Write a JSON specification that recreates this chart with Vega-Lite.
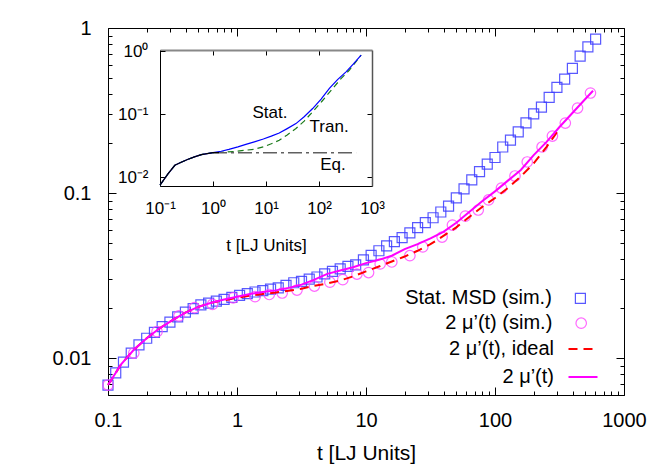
{
  "$schema": "https://vega.github.io/schema/vega-lite/v6.json",
  "width": 516,
  "height": 367,
  "autosize": {"type": "none"},
  "padding": {"left": 108, "top": 28, "right": 40, "bottom": 70},
  "background": "white",
  "config": {
    "font": "Liberation Sans",
    "view": {"stroke": null},
    "axis": {"grid": false, "domainColor": "black", "tickColor": "black", "labelColor": "black", "titleColor": "black", "labelFont": "Liberation Sans", "titleFont": "Liberation Sans", "titleFontWeight": "normal", "labelFlush": false, "labelOverlap": false, "domainWidth": 1, "tickWidth": 1},
    "legend": {"title": null, "orient": "none", "padding": 0, "labelFontSize": 20, "labelFont": "Liberation Sans", "labelColor": "black", "labelAlign": "right", "symbolFillColor": "transparent"}
  },
  "datasets": {
    "squares": [
      {"t": 0.1, "v": 0.00686}, {"t": 0.1148, "v": 0.00813}, {"t": 0.1318, "v": 0.00944}, {"t": 0.1514, "v": 0.01072}, {"t": 0.1738, "v": 0.01202}, {"t": 0.1995, "v": 0.01318}, {"t": 0.2291, "v": 0.01429}, {"t": 0.263, "v": 0.01549}, {"t": 0.302, "v": 0.01652}, {"t": 0.3467, "v": 0.01778}, {"t": 0.3981, "v": 0.01897}, {"t": 0.4571, "v": 0.01995}, {"t": 0.5248, "v": 0.02099}, {"t": 0.6026, "v": 0.02153}, {"t": 0.6918, "v": 0.02213}, {"t": 0.7943, "v": 0.02265}, {"t": 0.912, "v": 0.02333}, {"t": 1.047, "v": 0.02399}, {"t": 1.202, "v": 0.02455}, {"t": 1.38, "v": 0.02512}, {"t": 1.585, "v": 0.02559}, {"t": 1.82, "v": 0.02612}, {"t": 2.089, "v": 0.02661}, {"t": 2.399, "v": 0.02754}, {"t": 2.754, "v": 0.02858}, {"t": 3.162, "v": 0.02917}, {"t": 3.631, "v": 0.03006}, {"t": 4.169, "v": 0.03097}, {"t": 4.786, "v": 0.03236}, {"t": 5.495, "v": 0.0335}, {"t": 6.31, "v": 0.03467}, {"t": 7.244, "v": 0.03589}, {"t": 8.318, "v": 0.03673}, {"t": 9.55, "v": 0.03936}, {"t": 10.96, "v": 0.04188}, {"t": 12.59, "v": 0.04467}, {"t": 14.45, "v": 0.04786}, {"t": 16.6, "v": 0.0507}, {"t": 19.05, "v": 0.0537}, {"t": 21.88, "v": 0.05728}, {"t": 25.12, "v": 0.06166}, {"t": 28.84, "v": 0.06607}, {"t": 33.11, "v": 0.07079}, {"t": 38.02, "v": 0.07674}, {"t": 43.65, "v": 0.08318}, {"t": 50.12, "v": 0.09333}, {"t": 57.54, "v": 0.1059}, {"t": 66.07, "v": 0.1202}, {"t": 75.86, "v": 0.1349}, {"t": 87.1, "v": 0.1496}, {"t": 100, "v": 0.1641}, {"t": 114.8, "v": 0.1901}, {"t": 131.8, "v": 0.2089}, {"t": 151.4, "v": 0.2344}, {"t": 173.8, "v": 0.2661}, {"t": 199.5, "v": 0.302}, {"t": 229.1, "v": 0.3311}, {"t": 263, "v": 0.3802}, {"t": 302, "v": 0.4365}, {"t": 346.7, "v": 0.4898}, {"t": 398.1, "v": 0.5689}, {"t": 457.1, "v": 0.6761}, {"t": 524.8, "v": 0.7674}, {"t": 602.6, "v": 0.8551}
    ],
    "circles": [
      {"t": 0.1, "v": 0.00686}, {"t": 0.1585, "v": 0.01072}, {"t": 0.2399, "v": 0.01445}, {"t": 0.3548, "v": 0.01799}, {"t": 0.4677, "v": 0.02018}, {"t": 0.6457, "v": 0.02113}, {"t": 0.9333, "v": 0.02317}, {"t": 1.38, "v": 0.02355}, {"t": 1.778, "v": 0.02427}, {"t": 2.239, "v": 0.02477}, {"t": 2.917, "v": 0.02582}, {"t": 3.981, "v": 0.02729}, {"t": 5.248, "v": 0.02884}, {"t": 6.607, "v": 0.02985}, {"t": 8.511, "v": 0.03228}, {"t": 10.47, "v": 0.03296}, {"t": 12.88, "v": 0.03715}, {"t": 15.85, "v": 0.0382}, {"t": 21.88, "v": 0.04169}, {"t": 27.54, "v": 0.0471}, {"t": 38.9, "v": 0.05408}, {"t": 46.77, "v": 0.06397}, {"t": 58.88, "v": 0.07244}, {"t": 74.13, "v": 0.07889}, {"t": 89.13, "v": 0.09078}, {"t": 112.2, "v": 0.1072}, {"t": 142.9, "v": 0.1268}, {"t": 177.8, "v": 0.1542}, {"t": 231.7, "v": 0.1901}, {"t": 278.6, "v": 0.2213}, {"t": 350.8, "v": 0.2655}, {"t": 436.5, "v": 0.3273}, {"t": 549.5, "v": 0.4036}
    ],
    "ideal": [
      {"t": 0.1, "v": 0.00686}, {"t": 0.1259, "v": 0.00912}, {"t": 0.1585, "v": 0.01122}, {"t": 0.1995, "v": 0.01318}, {"t": 0.2512, "v": 0.01514}, {"t": 0.3162, "v": 0.01698}, {"t": 0.3981, "v": 0.01884}, {"t": 0.5012, "v": 0.02042}, {"t": 0.631, "v": 0.02163}, {"t": 0.7943, "v": 0.02239}, {"t": 1, "v": 0.02317}, {"t": 1.259, "v": 0.02388}, {"t": 1.585, "v": 0.02443}, {"t": 1.995, "v": 0.02495}, {"t": 2.512, "v": 0.02559}, {"t": 3.162, "v": 0.0263}, {"t": 3.981, "v": 0.02742}, {"t": 5.012, "v": 0.02831}, {"t": 6.31, "v": 0.02951}, {"t": 7.943, "v": 0.03126}, {"t": 10, "v": 0.0335}, {"t": 12.59, "v": 0.03589}, {"t": 15.85, "v": 0.03846}, {"t": 19.95, "v": 0.04121}, {"t": 25.12, "v": 0.04467}, {"t": 31.62, "v": 0.04898}, {"t": 39.81, "v": 0.05495}, {"t": 50.12, "v": 0.06194}, {"t": 63.1, "v": 0.07161}, {"t": 79.43, "v": 0.08222}, {"t": 100, "v": 0.09333}, {"t": 125.9, "v": 0.1072}, {"t": 158.5, "v": 0.1259}, {"t": 199.5, "v": 0.1514}, {"t": 251.2, "v": 0.1905}, {"t": 316.2, "v": 0.2455}
    ],
    "mu": [
      {"t": 0.1, "v": 0.00686}, {"t": 0.1259, "v": 0.00912}, {"t": 0.1585, "v": 0.01122}, {"t": 0.1995, "v": 0.01318}, {"t": 0.2512, "v": 0.01514}, {"t": 0.3162, "v": 0.01698}, {"t": 0.3981, "v": 0.01884}, {"t": 0.5012, "v": 0.02042}, {"t": 0.631, "v": 0.02163}, {"t": 0.7943, "v": 0.02265}, {"t": 1, "v": 0.02355}, {"t": 1.259, "v": 0.02443}, {"t": 1.585, "v": 0.02512}, {"t": 1.995, "v": 0.0257}, {"t": 2.512, "v": 0.02661}, {"t": 3.162, "v": 0.02786}, {"t": 3.981, "v": 0.02985}, {"t": 5.012, "v": 0.03236}, {"t": 6.31, "v": 0.03388}, {"t": 7.943, "v": 0.03548}, {"t": 10, "v": 0.03758}, {"t": 12.59, "v": 0.03936}, {"t": 15.85, "v": 0.04169}, {"t": 19.95, "v": 0.04571}, {"t": 25.12, "v": 0.04898}, {"t": 31.62, "v": 0.05309}, {"t": 39.81, "v": 0.05821}, {"t": 50.12, "v": 0.06607}, {"t": 63.1, "v": 0.07674}, {"t": 79.43, "v": 0.08913}, {"t": 100, "v": 0.1023}, {"t": 125.9, "v": 0.1189}, {"t": 158.5, "v": 0.138}, {"t": 199.5, "v": 0.1698}, {"t": 251.2, "v": 0.2042}, {"t": 316.2, "v": 0.2512}, {"t": 398.1, "v": 0.3055}, {"t": 501.2, "v": 0.3715}, {"t": 575.4, "v": 0.4169}
    ],
    "istat": [
      {"t": 0.1, "v": 0.00741}, {"t": 0.1413, "v": 0.01122}, {"t": 0.1905, "v": 0.01538}, {"t": 0.2512, "v": 0.01718}, {"t": 0.3388, "v": 0.01914}, {"t": 0.4467, "v": 0.02089}, {"t": 0.6026, "v": 0.02275}, {"t": 1, "v": 0.02443}, {"t": 1.429, "v": 0.0257}, {"t": 1.995, "v": 0.02754}, {"t": 2.951, "v": 0.0302}, {"t": 4.169, "v": 0.03311}, {"t": 6.026, "v": 0.03631}, {"t": 8.913, "v": 0.04027}, {"t": 12.59, "v": 0.04467}, {"t": 17.78, "v": 0.05012}, {"t": 25.12, "v": 0.05888}, {"t": 36.73, "v": 0.07079}, {"t": 52.48, "v": 0.0912}, {"t": 75.86, "v": 0.123}, {"t": 109.6, "v": 0.1738}, {"t": 157, "v": 0.257}, {"t": 223.9, "v": 0.3548}, {"t": 323.6, "v": 0.472}, {"t": 446.7, "v": 0.631}, {"t": 623.7, "v": 0.871}
    ],
    "itran": [
      {"t": 0.1, "v": 0.00741}, {"t": 0.1413, "v": 0.01122}, {"t": 0.1905, "v": 0.01538}, {"t": 0.2512, "v": 0.01718}, {"t": 0.3388, "v": 0.01914}, {"t": 0.4467, "v": 0.02089}, {"t": 0.6026, "v": 0.02275}, {"t": 1, "v": 0.02443}, {"t": 1.585, "v": 0.02483}, {"t": 2.512, "v": 0.02541}, {"t": 3.981, "v": 0.02661}, {"t": 6.026, "v": 0.02767}, {"t": 8.913, "v": 0.0302}, {"t": 12.59, "v": 0.03388}, {"t": 17.78, "v": 0.03846}, {"t": 25.12, "v": 0.04677}, {"t": 36.73, "v": 0.05916}, {"t": 52.48, "v": 0.07762}, {"t": 75.86, "v": 0.1089}, {"t": 114.8, "v": 0.1622}, {"t": 182, "v": 0.257}, {"t": 263, "v": 0.3715}, {"t": 375.8, "v": 0.5047}, {"t": 623.7, "v": 0.871}
    ],
    "ieq": [
      {"t": 1, "v": 0.02443}, {"t": 501, "v": 0.02443}
    ],
    "ieq0": [
      {"t": 0.1, "v": 0.00741}, {"t": 0.1413, "v": 0.01122}, {"t": 0.1905, "v": 0.01538}, {"t": 0.2512, "v": 0.01718}, {"t": 0.3388, "v": 0.01914}, {"t": 0.4467, "v": 0.02089}, {"t": 0.6026, "v": 0.02275}, {"t": 1, "v": 0.02443}, {"t": 1.3, "v": 0.02443}
    ],
    "ilabels": [
      {"t": 11.9, "v": 0.1038, "label": "Stat."}, {"t": 155, "v": 0.0621, "label": "Tran."}, {"t": 183.6, "v": 0.0154, "label": "Eq."}
    ]
  },
  "layer": [
    {
      "layer": [
        {
          "data": {"name": "squares"},
          "mark": {"type": "point", "shape": "square", "filled": false, "size": 100, "strokeWidth": 1.2, "opacity": 0.85},
          "encoding": {
            "x": {"field": "t", "type": "quantitative", "scale": {"type": "log", "domain": [0.1, 1000], "nice": false},
              "axis": {"orient": "bottom", "values": [0.1,0.2,0.3,0.4,0.5,0.6,0.7,0.8,0.9,1,2,3,4,5,6,7,8,9,10,20,30,40,50,60,70,80,90,100,200,300,400,500,600,700,800,900,1000],
                "labelExpr": "abs(log(datum.value)/LN10 - round(log(datum.value)/LN10)) < 0.001 ? format(datum.value, '~g') : ''",
                "tickSize": {"condition": {"test": "abs(log(datum.value)/LN10 - round(log(datum.value)/LN10)) < 0.001", "value": -8}, "value": -4},
                "labelFontSize": 20, "labelPadding": 23, "title": "t [LJ Units]", "titleFontSize": 21, "titlePadding": 8}},
            "y": {"field": "v", "type": "quantitative", "scale": {"type": "log", "domain": [0.00597, 1], "nice": false},
              "axis": {"orient": "left", "values": [0.006,0.007,0.008,0.009,0.01,0.02,0.03,0.04,0.05,0.06,0.07,0.08,0.09,0.1,0.2,0.3,0.4,0.5,0.6,0.7,0.8,0.9,1],
                "labelExpr": "abs(log(datum.value)/LN10 - round(log(datum.value)/LN10)) < 0.001 ? format(datum.value, '~g') : ''",
                "tickSize": {"condition": {"test": "abs(log(datum.value)/LN10 - round(log(datum.value)/LN10)) < 0.001", "value": -8}, "value": -4},
                "labelFontSize": 20, "labelPadding": 25, "title": null}},
            "color": {"datum": "Stat. MSD (sim.)", "type": "nominal", "scale": {"range": ["#3c3cff"]},
              "legend": {"legendX": 462.4, "legendY": 260.4, "labelOffset": -38.6, "symbolType": "square", "symbolSize": 100, "symbolStrokeWidth": 1.2}}
          }
        },
        {
          "data": {"name": "circles"},
          "mark": {"type": "point", "shape": "circle", "filled": false, "size": 110, "strokeWidth": 1.2, "opacity": 0.8},
          "encoding": {
            "x": {"field": "t", "type": "quantitative", "scale": {"type": "log", "domain": [0.1, 1000], "nice": false}, "axis": null},
            "y": {"field": "v", "type": "quantitative", "scale": {"type": "log", "domain": [0.00597, 1], "nice": false}, "axis": null},
            "color": {"datum": "2 μ’(t) (sim.)", "type": "nominal", "scale": {"range": ["#ff44ff"]},
              "legend": {"legendX": 463.2, "legendY": 285.2, "labelOffset": -38.9, "symbolType": "circle", "symbolSize": 110, "symbolStrokeWidth": 1.2}}
          }
        },
        {
          "data": {"name": "ideal"},
          "mark": {"type": "line", "strokeWidth": 2, "strokeDash": [9, 6]},
          "encoding": {
            "x": {"field": "t", "type": "quantitative", "scale": {"type": "log", "domain": [0.1, 1000], "nice": false}, "axis": null},
            "y": {"field": "v", "type": "quantitative", "scale": {"type": "log", "domain": [0.00597, 1], "nice": false}, "axis": null},
            "color": {"datum": "2 μ’(t), ideal", "type": "nominal", "scale": {"range": ["#ff0000"]},
              "legend": {"legendX": 459.5, "legendY": 305.5, "labelOffset": -44.5, "symbolType": "stroke", "symbolSize": 841, "symbolStrokeWidth": 2, "symbolDash": [9, 6]}}
          }
        },
        {
          "data": {"name": "mu"},
          "mark": {"type": "line", "strokeWidth": 2},
          "encoding": {
            "x": {"field": "t", "type": "quantitative", "scale": {"type": "log", "domain": [0.1, 1000], "nice": false}, "axis": null},
            "y": {"field": "v", "type": "quantitative", "scale": {"type": "log", "domain": [0.00597, 1], "nice": false}, "axis": null},
            "color": {"datum": "2 μ’(t)", "type": "nominal", "scale": {"range": ["#ff00ff"]},
              "legend": {"legendX": 459.5, "legendY": 333.5, "labelOffset": -44.5, "symbolType": "stroke", "symbolSize": 841, "symbolStrokeWidth": 2}}
          }
        },
        {
          "data": {"name": "squares"},
          "mark": {"type": "point", "opacity": 0},
          "encoding": {
            "x": {"field": "t", "type": "quantitative", "scale": {"type": "log", "domain": [0.1, 1000], "nice": false},
              "axis": {"orient": "top", "values": [0.1,0.2,0.3,0.4,0.5,0.6,0.7,0.8,0.9,1,2,3,4,5,6,7,8,9,10,20,30,40,50,60,70,80,90,100,200,300,400,500,600,700,800,900,1000],
                "labels": false, "title": null,
                "tickSize": {"condition": {"test": "abs(log(datum.value)/LN10 - round(log(datum.value)/LN10)) < 0.001", "value": -8}, "value": -4}}},
            "y": {"field": "v", "type": "quantitative", "scale": {"type": "log", "domain": [0.00597, 1], "nice": false},
              "axis": {"orient": "right", "values": [0.006,0.007,0.008,0.009,0.01,0.02,0.03,0.04,0.05,0.06,0.07,0.08,0.09,0.1,0.2,0.3,0.4,0.5,0.6,0.7,0.8,0.9,1],
                "labels": false, "title": null,
                "tickSize": {"condition": {"test": "abs(log(datum.value)/LN10 - round(log(datum.value)/LN10)) < 0.001", "value": -8}, "value": -4}}}
          }
        }
      ],
      "resolve": {"axis": {"x": "independent", "y": "independent"}, "scale": {"color": "independent"}, "legend": {"color": "independent"}}
    },
    {
      "layer": [
        {
          "data": {"name": "itran"},
          "mark": {"type": "line", "strokeWidth": 1.2, "strokeDash": [6, 4], "color": "#1a7a1a"},
          "encoding": {
            "x": {"field": "t", "type": "quantitative", "scale": {"type": "log", "domain": [0.1, 1000], "range": [52, 264], "nice": false},
              "axis": {"orient": "top", "offset": -22, "values": [1, 10, 100], "labels": false, "title": null, "tickSize": -5, "domainColor": "#888888", "domainWidth": 2}},
            "y": {"field": "v", "type": "quantitative", "scale": {"type": "log", "domain": [0.0072, 1.05], "range": [158, 22], "nice": false},
              "axis": {"orient": "right", "offset": -252, "values": [0.01, 0.1], "labels": false, "title": null, "tickSize": -5, "domainColor": "#555555", "domainWidth": 1.5}}
          }
        },
        {
          "data": {"name": "ieq"},
          "mark": {"type": "line", "strokeWidth": 1.5, "strokeDash": [14, 4, 3, 4], "color": "#606060"},
          "encoding": {
            "x": {"field": "t", "type": "quantitative", "scale": {"type": "log", "domain": [0.1, 1000], "range": [52, 264], "nice": false}, "axis": null},
            "y": {"field": "v", "type": "quantitative", "scale": {"type": "log", "domain": [0.0072, 1.05], "range": [158, 22], "nice": false}, "axis": null}
          }
        },
        {
          "data": {"name": "istat"},
          "mark": {"type": "line", "strokeWidth": 1.2, "color": "#0000ff"},
          "encoding": {
            "x": {"field": "t", "type": "quantitative", "scale": {"type": "log", "domain": [0.1, 1000], "range": [52, 264], "nice": false},
              "axis": {"orient": "bottom", "offset": -209, "values": [0.1, 1, 10, 100, 1000],
                "labelExpr": "datum.value < 0.5 ? '10⁻¹' : datum.value < 5 ? '10⁰' : datum.value < 50 ? '10¹' : datum.value < 500 ? '10²' : '10³'",
                "tickSize": -5, "labelFontSize": 17, "labelPadding": 19, "title": "t [LJ Units]", "titleFontSize": 17, "titlePadding": 21}},
            "y": {"field": "v", "type": "quantitative", "scale": {"type": "log", "domain": [0.0072, 1.05], "range": [158, 22], "nice": false},
              "axis": {"orient": "left", "offset": -52, "values": [0.01, 0.1, 1],
                "labelExpr": "datum.value < 0.05 ? '10⁻²' : datum.value < 0.5 ? '10⁻¹' : '10⁰'",
                "tickSize": -5, "labelFontSize": 17, "labelPadding": 17, "title": null}}
          }
        },
        {
          "data": {"name": "ieq0"},
          "mark": {"type": "line", "strokeWidth": 1.2, "color": "#000000"},
          "encoding": {
            "x": {"field": "t", "type": "quantitative", "scale": {"type": "log", "domain": [0.1, 1000], "range": [52, 264], "nice": false}, "axis": null},
            "y": {"field": "v", "type": "quantitative", "scale": {"type": "log", "domain": [0.0072, 1.05], "range": [158, 22], "nice": false}, "axis": null}
          }
        },
        {
          "data": {"name": "ilabels"},
          "mark": {"type": "text", "fontSize": 17, "font": "Liberation Sans", "color": "black"},
          "encoding": {
            "x": {"field": "t", "type": "quantitative", "scale": {"type": "log", "domain": [0.1, 1000], "range": [52, 264], "nice": false}, "axis": null},
            "y": {"field": "v", "type": "quantitative", "scale": {"type": "log", "domain": [0.0072, 1.05], "range": [158, 22], "nice": false}, "axis": null},
            "text": {"field": "label"}
          }
        }
      ],
      "resolve": {"axis": {"x": "independent", "y": "independent"}}
    }
  ],
  "resolve": {"scale": {"x": "independent", "y": "independent"}, "axis": {"x": "independent", "y": "independent"}}
}
